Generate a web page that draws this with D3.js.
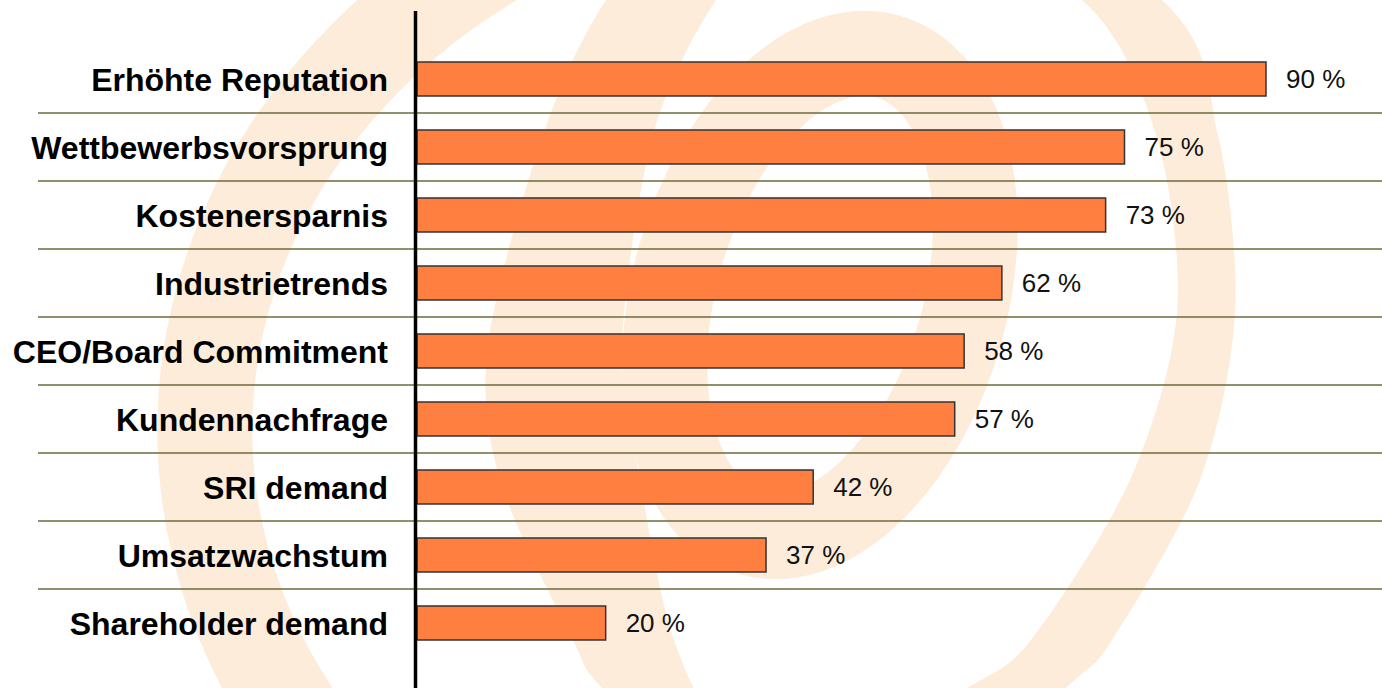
<!DOCTYPE html>
<html>
<head>
<meta charset="utf-8">
<script src="https://cdn.jsdelivr.net/npm/d3@7"></script>
<style>
  html, body { margin: 0; padding: 0; background: #fff; }
  svg { display: block; }
</style>
</head>
<body>
<div id="chart"></div>
<script>
// categories, top to bottom
var categories = ["Erhöhte Reputation", "Wettbewerbsvorsprung", "Kostenersparnis", "Industrietrends",
  "CEO/Board Commitment", "Kundennachfrage", "SRI demand", "Umsatzwachstum", "Shareholder demand"];
var values = [90, 75, 73, 62, 58, 57, 42, 37, 20];

var width = 1382, height = 688;
var axisX = 415.5, barLeft = 417;

var svg = d3.select("#chart").append("svg")
  .attr("width", width).attr("height", height);

// pale background swirl ("@" like logo), decoration only
var bg = svg.append("g").attr("class", "bg");
var pale = "#fdecd9";
// outer spiral: only the left part of an ellipse is shown
bg.append("path")
  .attr("d", "M527,-60 A675,575 0 0 0 319,750")
  .attr("fill", "none").attr("stroke", pale).attr("stroke-width", 95);

var ring = d3.line().curve(d3.curveCardinalClosed.tension(0.1));
var outerB = [[880,-180],[1162,0],[1218,135],[1235,312],[1200,480],[1112,640],[1066,688],[930,815],
  [720,800],[602,688],[573,640],[500,480],[488,344],[543,135],[606,0],[720,-140]];
var innerB = [[895,-95],[1082,0],[1156,135],[1177,312],[1130,480],[1031,640],[967,688],[850,755],
  [730,735],[674,640],[640,480],[622,344],[653,135],[716,0],[790,-70]];
bg.append("path")
  .attr("d", ring(outerB) + ring(innerB))
  .attr("fill", pale).attr("fill-rule", "evenodd");

bg.append("ellipse")
  .attr("cx", 0).attr("cy", 0).attr("rx", 145).attr("ry", 248)
  .attr("transform", "translate(820,295) rotate(16)")
  .attr("fill", "none").attr("stroke", pale).attr("stroke-width", 85);

// scales
var x = d3.scaleLinear().domain([0, 90]).range([barLeft, 1266]);
var y = d3.scaleBand().domain(categories).range([45, 657])
  .paddingInner(0.5).paddingOuter(0.25);

// separators between rows
var seps = svg.append("g").attr("class", "seps");
seps.selectAll("line").data(categories.slice(0, -1)).enter().append("line")
  .attr("x1", 38).attr("x2", width)
  .attr("y1", function(d){ return y(d) + y.bandwidth() + y.step() * 0.25; })
  .attr("y2", function(d){ return y(d) + y.bandwidth() + y.step() * 0.25; })
  .attr("stroke", "#6b6b3c").attr("stroke-width", 1.5);

// bars
svg.append("g").selectAll("rect").data(values).enter().append("rect")
  .attr("x", x(0))
  .attr("y", function(d, i){ return y(categories[i]); })
  .attr("width", function(d){ return x(d) - x(0); })
  .attr("height", y.bandwidth())
  .attr("fill", "#ff7f40").attr("stroke", "#333").attr("stroke-width", 1.5);

// value labels
svg.append("g").selectAll("text").data(values).enter().append("text")
  .attr("x", function(d){ return x(d) + 20; })
  .attr("y", function(d, i){ return y(categories[i]) + y.bandwidth() / 2; })
  .attr("dy", "0.36em")
  .attr("font-family", "Arial, 'Liberation Sans', sans-serif")
  .attr("font-size", 26)
  .attr("fill", "#111")
  .text(function(d){ return d + " %"; });

// category labels
svg.append("g").selectAll("text").data(categories).enter().append("text")
  .attr("x", 388)
  .attr("y", function(d){ return y(d) + y.bandwidth() / 2; })
  .attr("dy", "0.36em")
  .attr("text-anchor", "end")
  .attr("font-family", "Arial, 'Liberation Sans', sans-serif")
  .attr("font-size", 32)
  .attr("font-weight", "bold")
  .attr("fill", "#000")
  .text(function(d){ return d; });

// vertical axis line
svg.append("line")
  .attr("x1", axisX).attr("x2", axisX)
  .attr("y1", 11).attr("y2", height)
  .attr("stroke", "#000").attr("stroke-width", 3.5);
</script>
</body>
</html>
